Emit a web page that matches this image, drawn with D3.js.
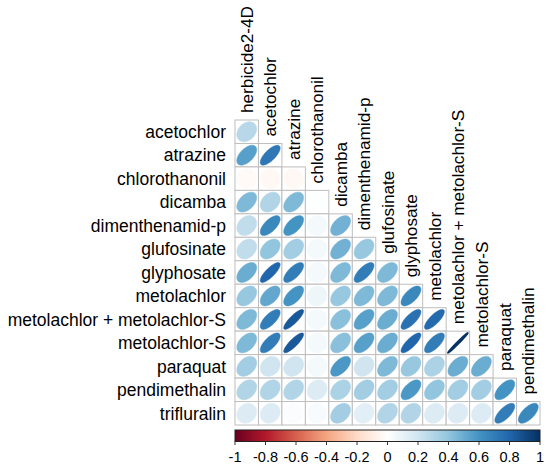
<!DOCTYPE html>
<html>
<head>
<meta charset="utf-8">
<script src="https://cdn.jsdelivr.net/npm/d3@7"></script>
<style>
  html, body { margin: 0; padding: 0; background: #fff; }
  text { font-family: "Liberation Sans", Arial, sans-serif; fill: #000; }
</style>
</head>
<body>
<svg id="chart" width="550" height="472"></svg>
<script>
// ---- data ----
const rowLabels = ["acetochlor", "atrazine", "chlorothanonil", "dicamba", "dimenthenamid-p",
  "glufosinate", "glyphosate", "metolachlor", "metolachlor + metolachlor-S", "metolachlor-S",
  "paraquat", "pendimethalin", "trifluralin"];
const colLabels = ["herbicide2-4D", "acetochlor", "atrazine", "chlorothanonil", "dicamba",
  "dimenthenamid-p", "glufosinate", "glyphosate", "metolachlor", "metolachlor + metolachlor-S",
  "metolachlor-S", "paraquat", "pendimethalin"];
// lower-triangle correlations, one array per row (row i has i+1 values)
const rAcetochlor     = [0.28];
const rAtrazine       = [0.55, 0.72];
const rChlorothanonil = [-0.03, -0.04, -0.04];
const rDicamba        = [0.45, 0.30, 0.45, 0.01];
const rDimenthenamid  = [0.25, 0.65, 0.60, 0.05, 0.48];
const rGlufosinate    = [0.25, 0.40, 0.35, 0.05, 0.48, 0.38];
const rGlyphosate     = [0.50, 0.80, 0.70, 0.05, 0.45, 0.70, 0.45];
const rMetolachlor    = [0.38, 0.52, 0.60, 0.07, 0.38, 0.45, 0.45, 0.65];
const rMetoPlusS      = [0.45, 0.70, 0.85, 0.05, 0.42, 0.55, 0.50, 0.75, 0.78];
const rMetolachlorS   = [0.45, 0.70, 0.85, 0.05, 0.42, 0.55, 0.50, 0.80, 0.70, 0.99];
const rParaquat       = [0.35, 0.20, 0.20, 0.05, 0.58, 0.20, 0.45, 0.38, 0.32, 0.50, 0.50];
const rPendimethalin  = [0.30, 0.30, 0.30, 0.15, 0.32, 0.35, 0.35, 0.58, 0.40, 0.35, 0.35, 0.60];
const rTrifluralin    = [0.15, 0.15, 0.02, 0.03, 0.35, 0.12, 0.30, 0.30, 0.15, 0.15, 0.15, 0.70, 0.65];
const corrRows = [rAcetochlor, rAtrazine, rChlorothanonil, rDicamba, rDimenthenamid, rGlufosinate,
  rGlyphosate, rMetolachlor, rMetoPlusS, rMetolachlorS, rParaquat, rPendimethalin, rTrifluralin];
const colorTicks = [-1, -0.8, -0.6, -0.4, -0.2, 0, 0.2, 0.4, 0.6, 0.8, 1];
const paletteRdBu = ["#67001F", "#B2182B", "#D6604D", "#F4A582", "#FDDBC7", "#FFFFFF",
  "#D1E5F0", "#92C5DE", "#4393C3", "#2166AC", "#053061"];

// ---- layout ----
const svg = d3.select("#chart");
svg.append("rect").attr("width", 550).attr("height", 472).attr("fill", "#fff");
const gx0 = 235, gx1 = 540, gy0 = 120;
const n = colLabels.length;
const x = d3.scaleBand().domain(colLabels).range([gx0, gx1]);
const y = d3.scaleBand().domain(rowLabels).range([gy0, gy0 + (gx1 - gx0) * rowLabels.length / n]);
const cw = x.bandwidth(), ch = y.bandwidth();
const color = d3.scaleLinear()
  .domain(d3.range(paletteRdBu.length).map(i => -1 + 2 * i / (paletteRdBu.length - 1)))
  .range(paletteRdBu);

const cells = [];
corrRows.forEach((arr, i) => arr.forEach((v, j) => cells.push({row: rowLabels[i], col: colLabels[j], v})));

// cell grid
svg.append("g").selectAll("rect").data(cells).join("rect")
  .attr("x", d => x(d.col)).attr("y", d => y(d.row))
  .attr("width", cw).attr("height", ch)
  .attr("fill", "#fff").attr("stroke", "#BEBEBE").attr("stroke-width", 1);

// ellipses (corrplot style)
function ellipsePath(rho) {
  const a = Math.acos(Math.max(-1, Math.min(1, rho)));
  const pts = d3.range(99).map(k => {
    const t = 2 * Math.PI * k / 98;
    return [0.85 * Math.cos(t + a / 2) / 2 * cw, -0.85 * Math.cos(t - a / 2) / 2 * ch];
  });
  return d3.line()(pts) + "Z";
}
svg.append("g").selectAll("path").data(cells).join("path")
  .attr("transform", d => `translate(${x(d.col) + cw / 2},${y(d.row) + ch / 2})`)
  .attr("d", d => ellipsePath(d.v))
  .attr("fill", d => color(d.v))
  .attr("stroke", d => color(d.v))
  .attr("stroke-width", d => Math.abs(d.v) > 0.97 ? 1.6 : 0.5);

// row labels
svg.append("g").selectAll("text").data(rowLabels).join("text")
  .attr("x", gx0 - 9).attr("y", d => y(d) + ch / 2)
  .attr("dy", "0.36em").attr("text-anchor", "end")
  .attr("font-size", 17.5).text(d => d);

// column labels (vertical)
svg.append("g").selectAll("text").data(colLabels).join("text")
  .attr("transform", (d, j) => `translate(${x(d) + cw / 2},${y(rowLabels[j]) - 7}) rotate(-90)`)
  .attr("dy", "0.36em").attr("text-anchor", "start")
  .attr("font-size", 17.2).text(d => d);

// color legend
const lg = {x0: 235, x1: 540, y0: 430, h: 11.5};
const defs = svg.append("defs");
const grad = defs.append("linearGradient").attr("id", "rdbu").attr("x1", "0%").attr("x2", "100%");
paletteRdBu.forEach((c, i) => grad.append("stop")
  .attr("offset", (100 * i / (paletteRdBu.length - 1)) + "%").attr("stop-color", c));
svg.append("rect").attr("x", lg.x0).attr("y", lg.y0).attr("width", lg.x1 - lg.x0).attr("height", lg.h)
  .attr("fill", "url(#rdbu)").attr("stroke", "#222").attr("stroke-width", 1);
const lx = d3.scaleLinear().domain([-1, 1]).range([lg.x0, lg.x1]);
const legAxis = svg.append("g");
legAxis.selectAll("line").data(colorTicks).join("line")
  .attr("x1", d => lx(d)).attr("x2", d => lx(d))
  .attr("y1", lg.y0 + lg.h).attr("y2", lg.y0 + lg.h + 3.5)
  .attr("stroke", "#333").attr("stroke-width", 1);
legAxis.selectAll("text").data(colorTicks).join("text")
  .attr("x", d => lx(d)).attr("y", 462)
  .attr("text-anchor", "middle").attr("font-size", 14.5)
  .text(d => String(d));
</script>
</body>
</html>
